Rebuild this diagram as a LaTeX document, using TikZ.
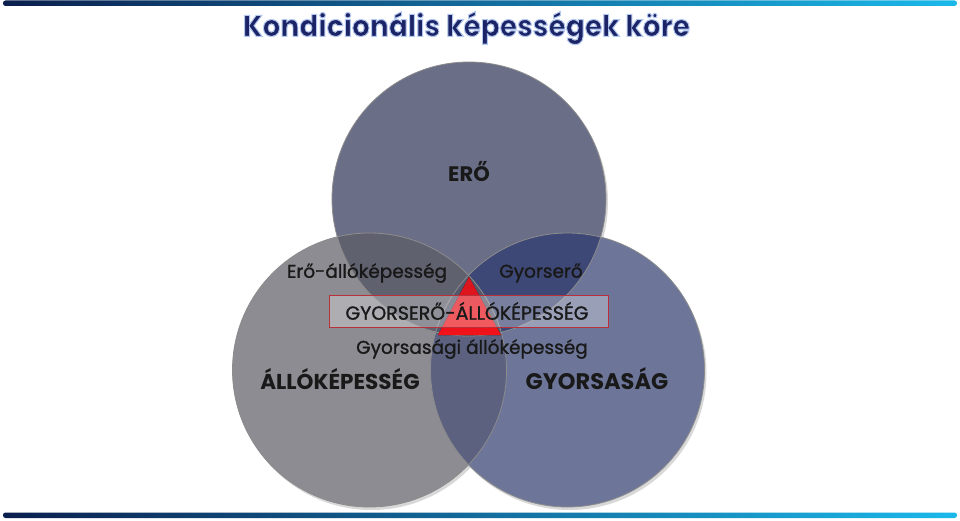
\documentclass[tikz,border=0pt]{standalone}
\usepackage{fontspec}
\setmainfont{Poppins}
\newfontfamily\labelfont{Poppins}[FakeBold=1.2]
\usepackage{graphicx}
\definecolor{topfill}{HTML}{6A6E87}
\definecolor{leftfill}{HTML}{8C8C92}
\definecolor{rightfill}{HTML}{6D7699}
\definecolor{tlfill}{HTML}{60616E}
\definecolor{trfill}{HTML}{3E4876}
\definecolor{lrfill}{HTML}{5C6180}
\definecolor{tlrfill}{HTML}{55586C}
\definecolor{barleft}{HTML}{0B1F4E}
\definecolor{barright}{HTML}{1AB9EA}
\definecolor{titlenavy}{HTML}{1C2466}
\definecolor{boxred}{HTML}{B8303A}
\definecolor{tritop}{HTML}{D8161E}
\definecolor{tribot}{HTML}{F2121A}

\begin{document}
\begin{tikzpicture}[x=1pt,y=-1pt,
  small/.style={font=\labelfont\fontsize{18.5}{18.5}\selectfont, text=black!90, inner sep=0pt},
  big/.style={font=\bfseries\fontsize{21.5}{21.5}\selectfont, text=black!90, inner sep=0pt}]
	\useasboundingbox (0,0) rectangle (960,521);
	\fill[white] (0,0) rectangle (960,521);
	% bars
	\shade[left color=barleft,right color=barright,rounded corners=2.5pt] (3,0.5) rectangle (957,6);
	\shade[left color=barleft,right color=barright,rounded corners=2.5pt] (3,512.5) rectangle (957,518);
	% title, navy letters with a light outline
	\node[inner sep=0pt] (title) at (466.5,28)
		{\resizebox*{447pt}{33pt}{\bfseries\color{titlenavy}\special{pdf:code 2 Tr 0.35 w 0.7 0.78 0.94 RG}Kondicionális képességek köre\special{pdf:code 0 Tr}}};
	% circles
	\coordinate (ce) at (469,199);
	\coordinate (ca) at (369.5,370);
	\coordinate (cg) at (567.5,370);
	\foreach \c in {ce,ca,cg}
		\fill[black!25,opacity=0.6] ([shift={(2,3)}]\c) circle (137);
	\fill[topfill] (ce) circle (137);
	\fill[leftfill] (ca) circle (137);
	\fill[rightfill] (cg) circle (137);
	\begin{scope}
		\clip (ce) circle (137);
		\fill[tlfill] (ca) circle (137);
		\fill[trfill] (cg) circle (137);
	\end{scope}
	\begin{scope}
		\clip (ca) circle (137);
		\fill[lrfill] (cg) circle (137);
		\clip (cg) circle (137);
		\fill[tlrfill] (ce) circle (137);
	\end{scope}
	\foreach \c in {ce,ca,cg}
		\draw[black!45,line width=0.8pt] (\c) circle (137);
	% center
	\fill[top color=tritop,bottom color=tribot] (469,277) -- (438,335) -- (501,335) -- cycle;
	\draw[boxred,fill=white,fill opacity=0.3] (329,295) rectangle (608,327);
	% labels
	\node[big,font=\bfseries\fontsize{21}{21}\selectfont] (ero) at (469,172) {ERŐ};
	\node[small] (eroallo) at (367,273) {Erő-állóképesség};
	\node[small] (gyorsero) at (541,273) {Gyorserő};
	\node[small,font=\labelfont\fontsize{19}{19}\selectfont] (gyorsall) at (467,311) {GYORSERŐ-ÁLLÓKÉPESSÉG};
	\node[small] (gysagall) at (472,349) {Gyorsasági állóképesség};
	\node[big] (allo) at (340,379) {ÁLLÓKÉPESSÉG};
	\node[big,font=\bfseries\fontsize{22.5}{22.5}\selectfont] (gyors) at (597,379) {GYORSASÁG};
\end{tikzpicture}
\end{document}
